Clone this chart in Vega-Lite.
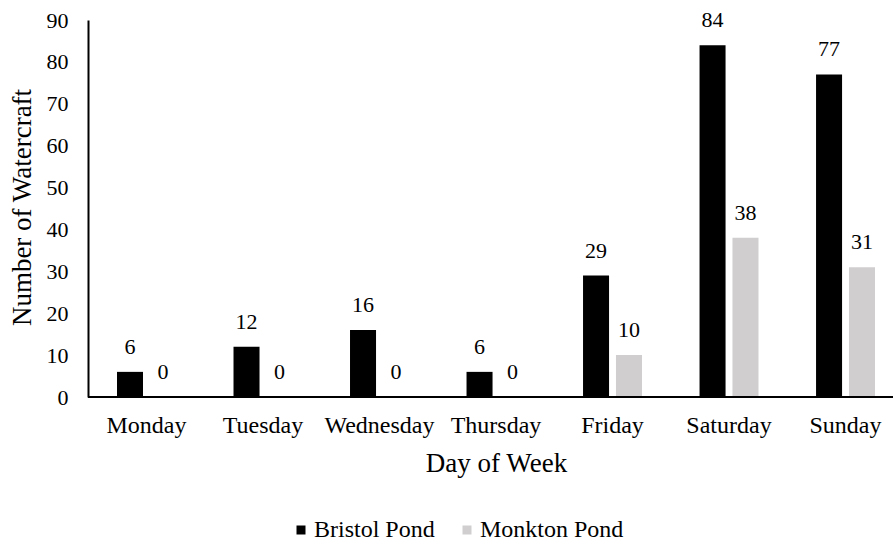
{
  "$schema": "https://vega.github.io/schema/vega-lite/v6.json",
  "width": 805,
  "height": 377,
  "autosize": {"type": "none"},
  "padding": {"left": 88, "top": 20, "right": 0, "bottom": 144},
  "background": "white",
  "config": {
    "view": {"stroke": null},
    "font": "Times New Roman",
    "text": {"font": "Times New Roman"},
    "axis": {"labelFont": "Times New Roman", "titleFont": "Times New Roman", "labelColor": "black", "titleColor": "black", "titleFontWeight": "normal", "grid": false, "ticks": false},
    "legend": {"labelFont": "Times New Roman", "labelColor": "black"}
  },
  "data": {
    "values": [
      {"day": "Monday", "pond": "Bristol Pond", "count": 6},
      {"day": "Monday", "pond": "Monkton Pond", "count": 0},
      {"day": "Tuesday", "pond": "Bristol Pond", "count": 12},
      {"day": "Tuesday", "pond": "Monkton Pond", "count": 0},
      {"day": "Wednesday", "pond": "Bristol Pond", "count": 16},
      {"day": "Wednesday", "pond": "Monkton Pond", "count": 0},
      {"day": "Thursday", "pond": "Bristol Pond", "count": 6},
      {"day": "Thursday", "pond": "Monkton Pond", "count": 0},
      {"day": "Friday", "pond": "Bristol Pond", "count": 29},
      {"day": "Friday", "pond": "Monkton Pond", "count": 10},
      {"day": "Saturday", "pond": "Bristol Pond", "count": 84},
      {"day": "Saturday", "pond": "Monkton Pond", "count": 38},
      {"day": "Sunday", "pond": "Bristol Pond", "count": 77},
      {"day": "Sunday", "pond": "Monkton Pond", "count": 31}
    ]
  },
  "layer": [
    {
      "mark": {"type": "bar"},
      "encoding": {
        "x": {
          "field": "day", "type": "nominal",
          "sort": ["Monday", "Tuesday", "Wednesday", "Thursday", "Friday", "Saturday", "Sunday"],
          "scale": {"range": [29, 787], "paddingInner": 0.494, "paddingOuter": 0},
          "axis": {"domain": false, "labelAngle": 0, "labelFontSize": 24, "labelPadding": 16, "title": "Day of Week", "titleFontSize": 27, "titlePadding": 13}
        },
        "xOffset": {"field": "pond", "type": "nominal", "scale": {"paddingInner": 0.21, "paddingOuter": 0}},
        "y": {
          "field": "count", "type": "quantitative",
          "scale": {"domain": [0, 90], "nice": false},
          "axis": {"values": [0, 10, 20, 30, 40, 50, 60, 70, 80, 90], "domain": true, "domainColor": "black", "domainWidth": 2, "labelFontSize": 22, "labelPadding": 20, "title": "Number of Watercraft", "titleFontSize": 27, "titleAngle": -90, "titleX": -66, "titleY": 187, "titleBaseline": "middle", "titleAlign": "center"}
        },
        "color": {
          "field": "pond", "type": "nominal",
          "scale": {"domain": ["Bristol Pond", "Monkton Pond"], "range": ["#000000", "#d0cece"]},
          "legend": {"orient": "none", "legendX": 201, "legendY": 498, "direction": "horizontal", "title": null, "symbolType": "square", "symbolSize": 81, "symbolStrokeWidth": 0, "labelFontSize": 24, "labelOffset": 1, "columnPadding": 20}
        }
      }
    },
    {
      "mark": {"type": "text", "fontSize": 22, "baseline": "alphabetic", "dy": -18, "color": "black", "font": "Times New Roman"},
      "encoding": {
        "x": {"field": "day", "type": "nominal", "sort": ["Monday", "Tuesday", "Wednesday", "Thursday", "Friday", "Saturday", "Sunday"]},
        "xOffset": {"field": "pond", "type": "nominal"},
        "y": {"field": "count", "type": "quantitative"},
        "text": {"field": "count", "type": "quantitative"}
      }
    },
    {
      "mark": {"type": "rule", "color": "black", "strokeWidth": 1.5},
      "encoding": {"y": {"datum": 0}}
    }
  ]
}
